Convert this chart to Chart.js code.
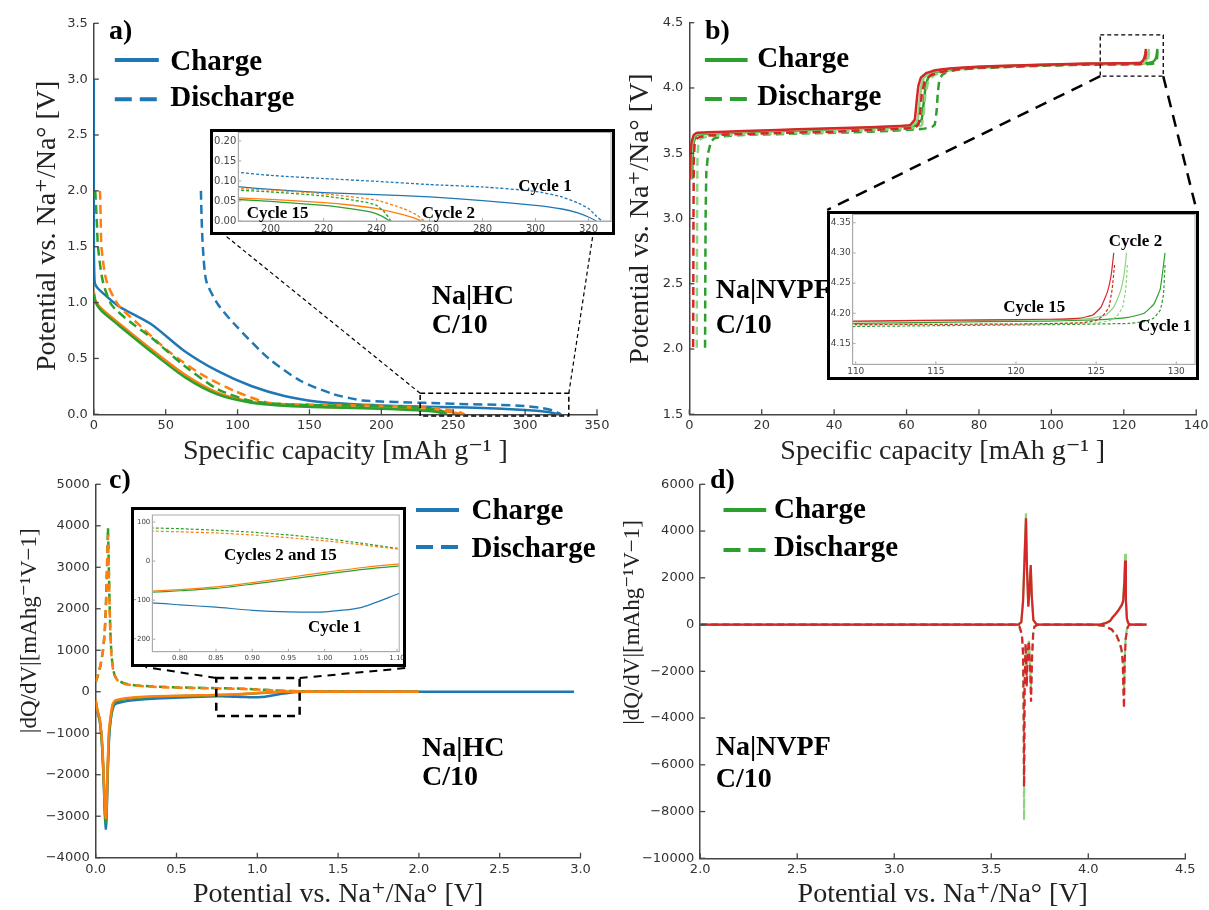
<!DOCTYPE html>
<html>
<head>
<meta charset="utf-8">
<script src="https://cdn.jsdelivr.net/npm/chart.js@4.4.1/dist/chart.umd.min.js"></script>
<style>
  html, body { margin: 0; padding: 0; background: #fff; }
  body { width: 1209px; height: 910px; position: relative; overflow: hidden; }
  canvas { position: absolute; }
  .inset { position: absolute; border: 3px solid #000; background: #fff; box-sizing: border-box; }
</style>
</head>
<body>
<script>
// ---- a) Na|HC galvanostatic curves (capacity mAh/g, potential V) ----
const aC1x = [0, 0, 0.5, 1.5, 5, 17, 40, 63, 86, 109.5, 132.6, 155.7, 175, 187, 200, 220, 240, 260, 280, 300, 310, 316, 320, 323];
const aC1y = [3.0, 1.6, 1.2, 1.15, 1.10, 0.97, 0.806, 0.567, 0.388, 0.253, 0.164, 0.113, 0.095, 0.086, 0.079, 0.071, 0.066, 0.06, 0.051, 0.039, 0.03, 0.02, 0.01, 0.0];
const aD1x = [74.5, 75, 75.9, 78.3, 86.3, 97.9, 121, 144, 167, 178, 187, 200, 220, 240, 260, 280, 300, 310, 316, 320, 323, 325];
const aD1y = [2.0, 1.75, 1.49, 1.19, 0.985, 0.806, 0.507, 0.298, 0.179, 0.145, 0.123, 0.114, 0.106, 0.099, 0.091, 0.085, 0.074, 0.06, 0.045, 0.031, 0.012, 0.0];
const aC2x = [0, 1.3, 5, 17, 40, 63, 86, 109.5, 132.6, 160, 187, 200, 220, 230, 240, 250, 254, 257];
const aC2y = [1.1, 1.015, 0.95, 0.82, 0.582, 0.358, 0.194, 0.113, 0.083, 0.066, 0.058, 0.054, 0.046, 0.040, 0.031, 0.016, 0.008, 0.0];
const aD2x = [4.3, 4.8, 5.4, 8.9, 17, 28.6, 51.7, 74.8, 97.9, 121, 145, 168, 187, 200, 220, 240, 250, 255, 258];
const aD2y = [2.0, 1.75, 1.49, 1.19, 0.98, 0.835, 0.567, 0.358, 0.209, 0.104, 0.088, 0.084, 0.081, 0.077, 0.068, 0.052, 0.031, 0.016, 0.0];
const aC15x = [0, 1.3, 5, 17, 40, 63, 86, 109.5, 132.6, 160, 187, 200, 220, 230, 238, 242, 245];
const aC15y = [1.08, 1.0, 0.93, 0.80, 0.56, 0.335, 0.178, 0.104, 0.077, 0.062, 0.054, 0.049, 0.039, 0.031, 0.022, 0.012, 0.0];
const aD15x = [1.0, 2.0, 3.0, 6.3, 12.4, 25, 40, 63.2, 86.3, 109.5, 133, 160, 187, 200, 220, 235, 240, 243, 245.5];
const aD15y = [2.0, 1.75, 1.49, 1.19, 0.98, 0.83, 0.686, 0.432, 0.224, 0.119, 0.09, 0.08, 0.077, 0.0725, 0.0625, 0.048, 0.039, 0.022, 0.0];

// ---- b) Na|NVPF galvanostatic curves ----
const bC1x = [0.8, 0.9, 1.2, 1.8, 3, 6, 15, 30, 45, 55, 62.5, 64.2, 64.8, 65.3, 66, 67.5, 70, 74, 80, 90, 100, 110, 118, 122, 125, 127, 128, 128.6, 129, 129.3];
const bC1y = [3.3, 3.45, 3.58, 3.635, 3.645, 3.65, 3.66, 3.675, 3.688, 3.698, 3.71, 3.76, 3.9, 4.02, 4.08, 4.115, 4.135, 4.148, 4.16, 4.17, 4.177, 4.183, 4.186, 4.187, 4.189, 4.193, 4.2, 4.215, 4.24, 4.30];
const bD1x = [129.3, 129.2, 129.0, 128.6, 128.0, 127, 122, 110, 100, 90, 80, 74, 71, 69.8, 69, 68.6, 68.3, 67.8, 67, 64, 55, 45, 30, 15, 9, 7, 6, 5.2, 4.7, 4.5, 4.4, 4.35];
const bD1y = [4.28, 4.23, 4.205, 4.192, 4.186, 4.183, 4.181, 4.178, 4.172, 4.163, 4.152, 4.14, 4.12, 4.10, 4.05, 3.95, 3.82, 3.72, 3.70, 3.685, 3.67, 3.66, 3.65, 3.64, 3.63, 3.615, 3.59, 3.5, 3.35, 3.0, 2.4, 2.0];
const bC2x = [0.5, 0.6, 0.9, 1.5, 2.5, 5, 15, 30, 45, 55, 61.5, 63.1, 63.6, 64.1, 64.8, 66.3, 69, 73, 80, 90, 100, 110, 118, 122, 124.5, 125.6, 126.1, 126.5, 126.75, 126.9];
const bC2y = [3.3, 3.45, 3.58, 3.64, 3.65, 3.655, 3.665, 3.68, 3.692, 3.702, 3.712, 3.76, 3.9, 4.02, 4.08, 4.115, 4.135, 4.15, 4.162, 4.171, 4.179, 4.186, 4.188, 4.189, 4.191, 4.197, 4.21, 4.235, 4.265, 4.30];
const bD2x = [126.95, 126.85, 126.65, 126.3, 125.9, 125, 120, 110, 100, 90, 80, 73, 69.5, 67.5, 66, 65.2, 64.8, 64.3, 63.5, 60, 50, 40, 25, 12, 6, 4, 3, 2.5, 2.25, 2.15, 2.1, 2.05];
const bD2y = [4.28, 4.24, 4.21, 4.195, 4.188, 4.184, 4.182, 4.181, 4.174, 4.165, 4.154, 4.14, 4.12, 4.095, 4.05, 3.95, 3.82, 3.72, 3.70, 3.688, 3.676, 3.663, 3.652, 3.642, 3.632, 3.62, 3.605, 3.575, 3.45, 3.0, 2.4, 2.0];
const bC15x = [0.2, 0.3, 0.6, 1.2, 2, 5, 15, 30, 45, 55, 61, 62.3, 62.8, 63.3, 64, 65.5, 68, 72, 80, 90, 100, 110, 118, 122, 124, 124.8, 125.3, 125.7, 125.95, 126.1];
const bC15y = [3.30, 3.45, 3.58, 3.64, 3.655, 3.66, 3.67, 3.683, 3.695, 3.705, 3.715, 3.76, 3.90, 4.02, 4.08, 4.115, 4.135, 4.15, 4.163, 4.172, 4.18, 4.187, 4.189, 4.19, 4.192, 4.197, 4.21, 4.235, 4.265, 4.30];
const bD15x = [126.15, 126.0, 125.8, 125.4, 125.0, 124.0, 120, 110, 100, 90, 80, 73, 69, 66.5, 65, 64.2, 63.8, 63.3, 62.5, 60, 50, 40, 25, 12, 5, 3, 2, 1.5, 1.25, 1.15, 1.1, 1.05];
const bD15y = [4.28, 4.24, 4.21, 4.195, 4.188, 4.184, 4.182, 4.181, 4.175, 4.166, 4.155, 4.14, 4.12, 4.095, 4.05, 3.95, 3.82, 3.72, 3.70, 3.69, 3.678, 3.665, 3.655, 3.645, 3.635, 3.625, 3.61, 3.58, 3.45, 3.0, 2.4, 2.0];

// ---- c) Na|HC dQ/dV (potential V, mAh g-1 V-1) ----
const cC1x = [0.0, 0.01, 0.025, 0.04, 0.05, 0.057, 0.063, 0.068, 0.074, 0.082, 0.092, 0.105, 0.12, 0.15, 0.2, 0.3, 0.45, 0.6, 0.7, 0.76, 0.8, 0.85, 0.9, 0.95, 1.0, 1.05, 1.1, 1.15, 1.2, 1.25, 1.3, 1.5, 2.0, 2.5, 2.96];
const cC1y = [-250, -480, -700, -1350, -2200, -3000, -3300, -2950, -2000, -1200, -700, -420, -300, -260, -220, -180, -150, -128, -112, -107, -112, -118, -126, -130, -130, -119, -85, -50, -22, -8, -2, 0, 0, 0, 0];
const cCx = [0.0, 0.01, 0.025, 0.04, 0.05, 0.057, 0.063, 0.068, 0.074, 0.082, 0.092, 0.105, 0.12, 0.15, 0.2, 0.3, 0.45, 0.6, 0.7, 0.76, 0.8, 0.85, 0.9, 0.95, 1.0, 1.05, 1.1, 1.15, 1.2, 1.3, 1.5, 2.0];
const cC2y = [-200, -430, -650, -1250, -2050, -2800, -3050, -2700, -1800, -950, -600, -300, -210, -180, -150, -120, -100, -90, -82, -77, -73, -66, -55, -42, -29, -17, -8, -3, -1, 0, 0, 0];
const cC15y = [-220, -450, -680, -1300, -2150, -2900, -3150, -2800, -1900, -1050, -680, -360, -250, -205, -170, -135, -110, -95, -85, -80, -76, -70, -59, -47, -34, -22, -13, -6, -2, 0, 0, 0];
const cDx = [0.0, 0.015, 0.03, 0.045, 0.055, 0.062, 0.068, 0.072, 0.076, 0.08, 0.085, 0.09, 0.097, 0.108, 0.12, 0.14, 0.17, 0.22, 0.3, 0.45, 0.6, 0.76, 0.8, 0.85, 0.9, 0.95, 1.0, 1.05, 1.1, 1.2, 1.3, 1.5, 1.75, 2.0];
const cD2y = [240, 420, 650, 1000, 1400, 1900, 2600, 3200, 3760, 3100, 2200, 1500, 900, 520, 360, 260, 200, 160, 130, 105, 90, 77, 75, 72, 67, 60, 52, 42, 31, 18, 10, 4, 1, 0];
const cD15y = [230, 410, 640, 990, 1400, 1950, 2700, 3350, 3950, 3250, 2300, 1550, 930, 540, 370, 270, 210, 168, 138, 112, 97, 85, 83, 79, 74, 67, 58, 46, 33, 19, 10, 4, 1, 0];

// ---- d) Na|NVPF dQ/dV ----
const dCx = [2.0, 3.0, 3.6, 3.64, 3.655, 3.664, 3.672, 3.679, 3.684, 3.691, 3.697, 3.7035, 3.709, 3.717, 3.734, 3.75,
             4.0, 4.06, 4.09, 4.112, 4.125, 4.138, 4.155, 4.173, 4.18, 4.186, 4.19, 4.194, 4.199, 4.205, 4.212, 4.3];
const dC2y = [0, 0, 0, 0, 120, 1100, 3100, 4760, 2500, 800, 1450, 2450, 1150, 180, 0, 0,
              0, 0, 70, 170, 320, 440, 620, 860, 1050, 2000, 3030, 1100, 270, 90, 0, 0];
const dC15y = [0, 0, 0, 0, 100, 1000, 2900, 4545, 2400, 764, 1500, 2548, 1200, 200, 0, 0,
               0, 0, 60, 150, 300, 420, 600, 840, 1000, 1800, 2740, 1000, 250, 80, 0, 0];
const dDx = [2.0, 3.0, 3.62, 3.645, 3.658, 3.664, 3.667, 3.669, 3.672, 3.677, 3.683, 3.688, 3.694, 3.7, 3.705, 3.71, 3.716, 3.722, 3.74,
             4.0, 4.08, 4.12, 4.145, 4.163, 4.172, 4.178, 4.181, 4.184, 4.188, 4.193, 4.197, 4.202, 4.21, 4.3];
const dD2y = [0, 0, 0, -100, -500, -1500, -4200, -8360, -3000, -900, -2200, -1100, -700, -1600, -2900, -1300, -350, -80, 0,
              0, -60, -220, -480, -850, -1150, -1700, -2600, -3000, -1400, -500, -300, -100, 0, 0];
const dD15y = [0, 0, 0, -80, -400, -1200, -3500, -6940, -2500, -800, -2660, -1200, -700, -1800, -3300, -1500, -400, -100, 0,
               0, -50, -200, -450, -800, -1100, -1600, -2800, -3580, -1500, -600, -400, -150, 0, 0];

const BLUE = '#1f77b4', ORANGE = '#ff7f0e', GREEN = '#2ca02c', LGREEN = '#8cd57e', RED = '#d62728';
const SERIF = '"Liberation Serif", "DejaVu Serif", serif';
const SANS = '"DejaVu Sans", sans-serif';
const B29 = 'bold 29px ' + SERIF, B28 = 'bold 28px ' + SERIF, B17 = 'bold 17px ' + SERIF;
const minus = v => (v < 0 ? '\u2212' : '') + Math.abs(v);

// extra drawing: inward ticks, zoom boxes, connector lines, legend keys, labels
const decoMap = new Map();
Chart.register({
  id: 'deco',
  afterDraw(chart) {
    const o = decoMap.get(chart.canvas);
    if (!o) return;
    const ctx = chart.ctx, a = chart.chartArea, sx = chart.scales.x, sy = chart.scales.y;
    const seg = (x0, y0, x1, y1) => { ctx.beginPath(); ctx.moveTo(x0, y0); ctx.lineTo(x1, y1); ctx.stroke(); };
    ctx.save();
    if (o.frame) {
      ctx.strokeStyle = o.frame; ctx.lineWidth = 1;
      ctx.strokeRect(a.left, a.top, a.right - a.left, a.bottom - a.top);
    }
    ctx.strokeStyle = o.tickColor; ctx.lineWidth = o.tickW;
    sx.ticks.forEach(t => { const p = sx.getPixelForValue(t.value); seg(p, a.bottom, p, a.bottom - o.tickLen); });
    sy.ticks.forEach(t => { const p = sy.getPixelForValue(t.value); seg(a.left, p, a.left + o.tickLen, p); });
    ctx.strokeStyle = '#000';
    (o.rects || []).forEach(r => {
      ctx.lineWidth = r.w; ctx.setLineDash(r.dash);
      const x0 = sx.getPixelForValue(r.x0), x1 = sx.getPixelForValue(r.x1);
      const y0 = sy.getPixelForValue(r.y0), y1 = sy.getPixelForValue(r.y1);
      ctx.strokeRect(x0, y1, x1 - x0, y0 - y1);
    });
    (o.links || []).forEach(k => {
      ctx.lineWidth = k.w; ctx.setLineDash(k.dash);
      seg(sx.getPixelForValue(k.x), sy.getPixelForValue(k.y), k.px - o.ox, k.py - o.oy);
    });
    (o.keys || []).forEach(s => {
      ctx.strokeStyle = s.color; ctx.lineWidth = 4; ctx.setLineDash(s.dash);
      seg(s.x0 - o.ox, s.y - o.oy, s.x1 - o.ox, s.y - o.oy);
    });
    ctx.setLineDash([]);
    ctx.fillStyle = '#000'; ctx.textBaseline = 'alphabetic'; ctx.textAlign = 'left';
    (o.texts || []).forEach(t => { ctx.font = t.font; ctx.fillText(t.text, t.x - o.ox, t.y - o.oy); });
    ctx.restore();
  }
});

function ds(xs, ys, color, dash, w, tension) {
  return { data: xs.map((x, i) => ({ x, y: ys[i] })), borderColor: color, borderWidth: w,
           borderDash: dash, pointRadius: 0, fill: false, tension };
}

function axis(s, small, size) {
  return {
    type: 'linear', min: s.min, max: s.max,
    grid: { display: false, drawTicks: false },
    border: { display: true, color: small ? '#aaa' : '#444', width: small ? 1 : 1.5 },
    ticks: { stepSize: s.step, includeBounds: false, autoSkip: false, maxRotation: 0,
             padding: s.pad, color: small ? '#444' : '#333', font: { family: SANS, size: s.fs },
             callback: v => s.fmt(v) },
    title: s.title ? { display: true, text: s.title, color: '#222', padding: 0,
                       font: { family: SERIF, size: s.tfs, lineHeight: 1.2 } } : { display: false },
    afterFit: size
  };
}

function build(p) {
  let host = document.body, box = p.box;
  if (p.inset) {
    const d = document.createElement('div');
    d.className = 'inset';
    Object.assign(d.style, { left: p.inset.x + 'px', top: p.inset.y + 'px', width: p.inset.w + 'px', height: p.inset.h + 'px' });
    document.body.appendChild(d);
    host = d;
    box = { x: p.inset.x + 3, y: p.inset.y + 3, w: p.inset.w - 6, h: p.inset.h - 6 };
  }
  const cv = document.createElement('canvas');
  cv.width = box.w; cv.height = box.h;
  Object.assign(cv.style, { left: (p.inset ? 0 : box.x) + 'px', top: (p.inset ? 0 : box.y) + 'px', width: box.w + 'px', height: box.h + 'px' });
  host.appendChild(cv);
  const A = p.area;
  const padL = p.yTitle ? p.yTitle.x - p.yTitle.lh / 2 - box.x : 0;
  const padB = p.xTitle ? box.y + box.h - p.xTitle.y - p.xTitle.lh / 2 : 0;
  const yW = A.l - box.x - padL, xH = box.y + box.h - padB - A.b;
  const small = !!p.inset;
  decoMap.set(cv, Object.assign({ ox: box.x, oy: box.y, tickColor: small ? '#aaa' : '#444',
    tickW: small ? 1 : 1.3, tickLen: small ? 3 : 5, frame: small ? '#aaa' : null }, p.deco));
  new Chart(cv, {
    type: 'line',
    data: { datasets: p.datasets },
    options: {
      responsive: false, animation: false, devicePixelRatio: 1, events: [],
      layout: { autoPadding: false, padding: { left: padL, top: A.t - box.y, right: box.x + box.w - A.r, bottom: padB } },
      plugins: { legend: { display: false }, tooltip: { enabled: false } },
      scales: {
        x: axis(p.x, small, s => { s.height = xH; s.paddingLeft = 0; s.paddingRight = 0; }),
        y: axis(p.y, small, s => { s.width = yW; s.paddingTop = 0; s.paddingBottom = 0; })
      }
    }
  });
}

const f0 = v => v.toFixed(0), f1 = v => v.toFixed(1), f2 = v => v.toFixed(2);
const YLAB = 'Potential vs. Na\u207A/Na\u00B0 [V]';
const XCAP = 'Specific capacity [mAh g\u207B\u00B9 ]';
const DQ = '|dQ/dV|[mAhg\u207B\u00B9V\u22121]';
const EN = '\u2002';

function aSets(w, dash, t) {
  return [ds(aC15x, aC15y, GREEN, [], w, t), ds(aD15x, aD15y, GREEN, dash, w, t),
          ds(aC2x, aC2y, ORANGE, [], w, t), ds(aD2x, aD2y, ORANGE, dash, w, t),
          ds(aC1x, aC1y, BLUE, [], w, t), ds(aD1x, aD1y, BLUE, dash, w, t)];
}
function bSets(w, dash, t) {
  return [ds(bC15x, bC15y, RED, [], w, t), ds(bD15x, bD15y, RED, dash, w, t),
          ds(bC2x, bC2y, LGREEN, [], w, t), ds(bD2x, bD2y, LGREEN, dash, w, t),
          ds(bC1x, bC1y, GREEN, [], w, t), ds(bD1x, bD1y, GREEN, dash, w, t)];
}
function cSets(w, dash, t) {
  return [ds(cCx, cC2y, ORANGE, [], w, t), ds(cDx, cD2y, ORANGE, dash, w, t),
          ds(cCx, cC15y, GREEN, [], w, t), ds(cDx, cD15y, GREEN, dash, w, t),
          ds(cC1x, cC1y, BLUE, [], w, t)];
}

// a)
build({
  box: { x: 0, y: 0, w: 640, h: 470 }, area: { l: 93.8, t: 23.3, r: 597, b: 414.3 },
  yTitle: { x: 47.8, lh: 33.6 }, xTitle: { y: 452, lh: 33.6 },
  x: { min: 0, max: 350, step: 50, fmt: f0, fs: 13, pad: 4, title: XCAP, tfs: 28 },
  y: { min: 0, max: 3.5, step: 0.5, fmt: f1, fs: 13, pad: 6, title: YLAB + EN, tfs: 28 },
  datasets: aSets(2.5, [9, 5], 0.25),
  deco: {
    rects: [{ x0: 227, x1: 330.4, y0: -0.015, y1: 0.188, w: 1.5, dash: [5, 3] }],
    links: [{ x: 227, y: 0.188, px: 225.8, py: 236, w: 1.2, dash: [4, 3] },
            { x: 330.4, y: 0.188, px: 593, py: 234, w: 1.2, dash: [4, 3] }],
    keys: [{ x0: 114.8, x1: 158.8, y: 60, color: BLUE, dash: [] },
           { x0: 114.8, x1: 158.8, y: 99.3, color: BLUE, dash: [17, 8] }],
    texts: [{ text: 'a)', x: 109, y: 39, font: B28 }, { text: 'Charge', x: 170.3, y: 69.5, font: B29 },
            { text: 'Discharge', x: 170.3, y: 106, font: B29 }, { text: 'Na|HC', x: 431.7, y: 304, font: B28 },
            { text: 'C/10', x: 431.7, y: 333, font: B28 }]
  }
});

// b)
build({
  box: { x: 600, y: 0, w: 640, h: 470 }, area: { l: 689.3, t: 22.7, r: 1196.2, b: 414.3 },
  yTitle: { x: 640.8, lh: 33.6 }, xTitle: { y: 452, lh: 33.6 },
  x: { min: 0, max: 140, step: 20, fmt: f0, fs: 13, pad: 4, title: XCAP, tfs: 28 },
  y: { min: 1.5, max: 4.5, step: 0.5, fmt: f1, fs: 13, pad: 6, title: YLAB, tfs: 28 },
  datasets: bSets(2.5, [8, 5], 0.05),
  deco: {
    rects: [{ x0: 113.5, x1: 130.9, y0: 4.09, y1: 4.406, w: 1.3, dash: [4, 3] }],
    links: [{ x: 113.5, y: 4.09, px: 827.2, py: 210, w: 2.5, dash: [12, 8] },
            { x: 130.9, y: 4.09, px: 1196, py: 208, w: 2.5, dash: [12, 8] }],
    keys: [{ x0: 704.9, x1: 747.6, y: 60, color: GREEN, dash: [] },
           { x0: 704.9, x1: 747.6, y: 99, color: GREEN, dash: [17, 8] }],
    texts: [{ text: 'b)', x: 704.9, y: 38.5, font: B28 }, { text: 'Charge', x: 757.3, y: 66.5, font: B29 },
            { text: 'Discharge', x: 757.3, y: 105, font: B29 }, { text: 'Na|NVPF', x: 715.7, y: 298, font: B28 },
            { text: 'C/10', x: 715.7, y: 333, font: B28 }]
  }
});

// c)
build({
  box: { x: 0, y: 460, w: 640, h: 455 }, area: { l: 95.7, t: 484.3, r: 580.5, b: 857.7 },
  yTitle: { x: 30, lh: 27.6 }, xTitle: { y: 895, lh: 33.6 },
  x: { min: 0, max: 3, step: 0.5, fmt: f1, fs: 13, pad: 4, title: YLAB, tfs: 28 },
  y: { min: -4000, max: 5000, step: 1000, fmt: minus, fs: 13, pad: 6, title: EN.repeat(7) + DQ, tfs: 23 },
  datasets: cSets(2.5, [8, 5], 0.15),
  deco: {
    rects: [{ x0: 0.746, x1: 1.262, y0: -585, y1: 331, w: 2.5, dash: [8, 6] }],
    links: [{ x: 0.746, y: 331, px: 145.4, py: 667, w: 2, dash: [8, 6] },
            { x: 1.262, y: 331, px: 406.4, py: 668, w: 2, dash: [8, 6] }],
    keys: [{ x0: 416, x1: 459, y: 510, color: BLUE, dash: [] },
           { x0: 416, x1: 459, y: 547, color: BLUE, dash: [17, 8] }],
    texts: [{ text: 'c)', x: 109, y: 488, font: B28 }, { text: 'Charge', x: 471.5, y: 519, font: B29 },
            { text: 'Discharge', x: 471.5, y: 557, font: B29 }, { text: 'Na|HC', x: 422, y: 756, font: B28 },
            { text: 'C/10', x: 422, y: 785, font: B28 }]
  }
});

// d)
build({
  box: { x: 600, y: 460, w: 640, h: 455 }, area: { l: 700.2, t: 484.3, r: 1185.3, b: 858.3 },
  yTitle: { x: 633, lh: 27.6 }, xTitle: { y: 895, lh: 33.6 },
  x: { min: 2, max: 4.5, step: 0.5, fmt: f1, fs: 13, pad: 4, title: YLAB, tfs: 28 },
  y: { min: -10000, max: 6000, step: 2000, fmt: minus, fs: 13, pad: 6, title: EN.repeat(8) + ' ' + DQ, tfs: 23 },
  datasets: [ds(dCx, dC15y, RED, [], 2.2, 0), ds(dDx, dD15y, RED, [7, 4], 2.2, 0),
             ds(dCx, dC2y, LGREEN, [], 2.2, 0), ds(dDx, dD2y, LGREEN, [7, 4], 2.2, 0)],
  deco: {
    keys: [{ x0: 723.5, x1: 766.2, y: 510, color: GREEN, dash: [] },
           { x0: 723.5, x1: 766.2, y: 550, color: GREEN, dash: [17, 8] }],
    texts: [{ text: 'd)', x: 710, y: 488, font: B28 }, { text: 'Charge', x: 774, y: 518, font: B29 },
            { text: 'Discharge', x: 774, y: 556, font: B29 }, { text: 'Na|NVPF', x: 715.7, y: 755, font: B28 },
            { text: 'C/10', x: 715.7, y: 787, font: B28 }]
  }
});

// insets
build({
  inset: { x: 210, y: 129, w: 405, h: 106 }, area: { l: 238.3, t: 132.5, r: 611, b: 221 },
  x: { min: 187.8, max: 328.5, step: 20, fmt: f0, fs: 10, pad: 2 },
  y: { min: 0, max: 0.221, step: 0.05, fmt: f2, fs: 10, pad: 2 },
  datasets: aSets(1.3, [3, 2], 0.2),
  deco: { texts: [{ text: 'Cycle 1', x: 518.3, y: 190.7, font: B17 }, { text: 'Cycle 2', x: 421.7, y: 217.7, font: B17 },
                  { text: 'Cycle 15', x: 246.7, y: 217.7, font: B17 }] }
});
build({
  inset: { x: 827, y: 211, w: 372, h: 169 }, area: { l: 852.7, t: 214.5, r: 1195, b: 364.3 },
  x: { min: 109.81, max: 131.17, step: 5, fmt: f0, fs: 9, pad: 2 },
  y: { min: 4.1153, max: 4.3637, step: 0.05, fmt: f2, fs: 9, pad: 2 },
  datasets: bSets(1.2, [3, 2], 0.1),
  deco: { texts: [{ text: 'Cycle 15', x: 1003.3, y: 312.3, font: B17 }, { text: 'Cycle 2', x: 1108.8, y: 246, font: B17 },
                  { text: 'Cycle 1', x: 1138, y: 330.7, font: B17 }] }
});
build({
  inset: { x: 131, y: 507, w: 275, h: 160 }, area: { l: 152.3, t: 515, r: 399.2, b: 651.7 },
  x: { min: 0.762, max: 1.103, step: 0.05, fmt: f2, fs: 7, pad: 2 },
  y: { min: -232, max: 118, step: 100, fmt: minus, fs: 7, pad: 2 },
  datasets: cSets(1.2, [3, 2], 0.2),
  deco: { texts: [{ text: 'Cycles 2 and 15', x: 223.9, y: 560, font: B17 }, { text: 'Cycle 1', x: 308, y: 631.7, font: B17 }] }
});
</script>
</body>
</html>
